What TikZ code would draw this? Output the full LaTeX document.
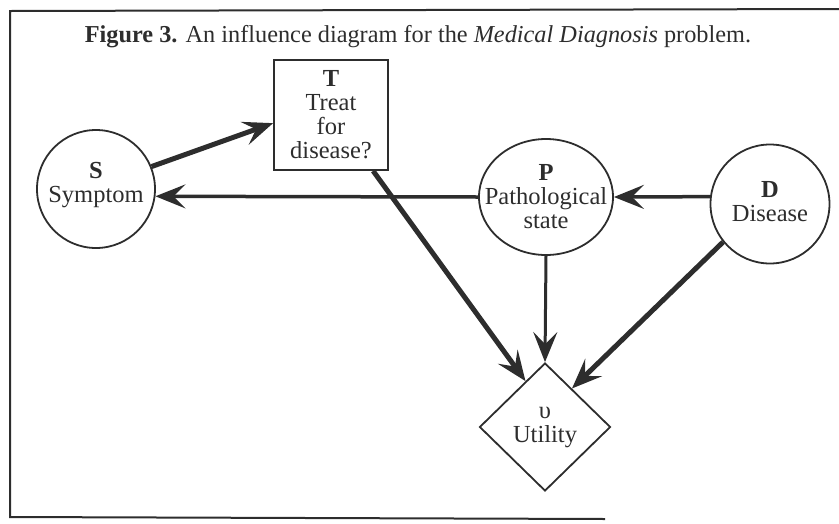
\documentclass[tikz,border=0pt]{standalone}
\usepackage{fontspec}
\setmainfont{Liberation Serif}
\usetikzlibrary{shapes.geometric,arrows.meta}
\definecolor{ink}{RGB}{45,45,45}
\begin{document}
\begin{tikzpicture}[x=1pt,y=-1pt,
  every node/.style={font=\fontsize{24.5}{24}\selectfont, text=ink, align=center, inner sep=0pt},
  chance/.style={draw=ink, line width=1.8pt, circle, minimum size=118pt},
  pchance/.style={draw=ink, line width=1.8pt, ellipse, minimum width=134pt, minimum height=116pt},
  decision/.style={draw=ink, line width=1.8pt, rectangle, minimum width=114pt, minimum height=110pt},
  value/.style={draw=ink, line width=1.8pt, diamond, minimum width=131pt, minimum height=128pt},
  conn/.style={draw=ink, -{Stealth[length=30pt,width=24pt,inset=12pt]}},
  frame/.style={draw=ink, line width=2pt}
]
\useasboundingbox (0,0) rectangle (839,523);
% frame
\coordinate (f1) at (839,9);
\coordinate (f2) at (10,11);
\coordinate (f3) at (10,517);
\coordinate (f4) at (605,519);
\draw[frame] (f1) -- (f2) -- (f3) -- (f4);
% title
\node[anchor=base, font=\fontsize{24.3}{24}\selectfont] (title) at (418,42)
  {\textbf{Figure 3.} An influence diagram for the \textit{Medical Diagnosis} problem.};
% shapes
\node[chance] (S) at (96,189) {};
\node[decision] (T) at (331,115) {};
\node[pchance] (P) at (546,197) {};
\node[chance, minimum size=119pt] (D) at (770,204) {};
\node[value] (U) at (545,427) {};
% texts
\node (St) at (96,185) {\textbf{S}\\Symptom};
\node (Tt) at (331,115) {\textbf{T}\\Treat\\for\\disease?};
\node (Pt) at (546,197) {\textbf{P}\\Pathological\\state};
\node (Dt) at (770,202) {\textbf{D}\\Disease};
\node (Ut) at (545,427) {υ\\Utility};
% connectors
\draw[conn, line width=5pt] (S.22) -- (T.188);
\draw[conn, line width=3.5pt] (P.west) -- (S.-7);
\draw[conn, line width=3.5pt] (D.173) -- (P.east);
\draw[conn, line width=5pt] (T.-53) -- (U.113);
\draw[conn, line width=3pt] (P.south) -- (U.north);
\draw[conn, line width=5pt] (D.219) -- (U.55);
\end{tikzpicture}
\end{document}
